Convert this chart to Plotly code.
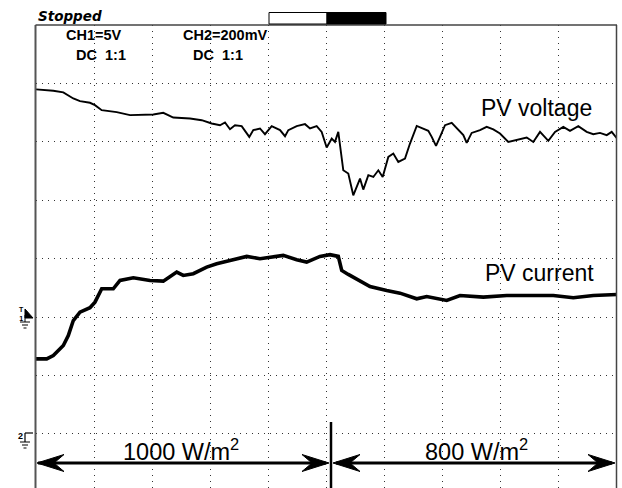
import numpy as np
import plotly.graph_objects as go

# ---- data (time in divisions, CH1 voltage in V, CH2 current-probe in mV) ----
ch1_v_per_div = 5.0      # CH1=5V
ch2_mv_per_div = 200.0   # CH2=200mV
ch1_ground_div = 3.0
ch2_ground_div = 1.0

t_voltage = [0.0, 0.298, 0.470, 0.642, 0.757, 0.929, 1.015, 1.131, 1.389, 1.618,
             2.019, 2.191, 2.363, 2.651, 2.852, 3.024, 3.167, 3.253, 3.339, 3.425,
             3.540, 3.671, 3.740, 3.855, 3.941, 4.057, 4.200, 4.286, 4.343, 4.487,
             4.630, 4.716, 4.831, 4.917, 5.003, 5.090, 5.146, 5.203, 5.289, 5.375,
             5.461, 5.530, 5.577, 5.633, 5.720, 5.806, 5.892, 5.967, 6.064, 6.150,
             6.236, 6.351, 6.437, 6.553, 6.666, 6.752, 6.811, 6.885, 6.954, 7.040,
             7.155, 7.241, 7.355, 7.413, 7.499, 7.642, 7.757, 7.871, 7.986, 8.129,
             8.274, 8.446, 8.559, 8.675, 8.818, 8.933, 9.076, 9.191, 9.334, 9.478,
             9.592, 9.707, 9.823, 9.909, 10.0]
pv_voltage = [19.49, 19.37, 19.23, 18.71, 18.48, 18.34, 18.14, 17.71, 17.54, 17.28,
              17.34, 17.48, 17.08, 17.00, 16.85, 16.57, 16.42, 16.66, 16.08, 16.42,
              16.34, 15.42, 16.00, 16.14, 15.65, 16.34, 16.00, 15.48, 16.00, 16.34,
              16.51, 16.14, 16.34, 15.85, 14.51, 15.28, 14.99, 15.85, 12.56, 12.28,
              10.42, 11.28, 11.85, 10.91, 12.14, 11.99, 12.56, 11.99, 13.71, 14.00,
              13.28, 13.57, 14.85, 16.36, 16.14, 15.94, 15.42, 14.65, 15.42, 16.42,
              16.62, 16.14, 15.57, 14.91, 15.76, 16.00, 16.28, 16.06, 15.71, 14.99,
              15.14, 15.37, 14.99, 15.85, 15.08, 15.85, 16.28, 15.94, 16.34, 15.85,
              15.65, 15.76, 15.57, 15.85, 15.28]

t_current = [0.0, 0.184, 0.298, 0.470, 0.556, 0.642, 0.757, 0.929, 1.015, 1.131,
             1.330, 1.446, 1.675, 1.962, 2.191, 2.422, 2.535, 2.707, 2.938, 3.110,
             3.339, 3.627, 3.855, 4.256, 4.487, 4.659, 4.888, 5.060, 5.203, 5.262,
             5.375, 5.547, 5.749, 6.036, 6.265, 6.553, 6.725, 7.069, 7.298, 7.699,
             8.102, 8.559, 8.904, 9.248, 9.592, 10.0]
pv_current = [256.6, 256.6, 267.9, 302.2, 336.5, 388.0, 416.5, 431.6, 450.8, 496.7,
              496.7, 525.2, 534.5, 525.2, 522.8, 553.7, 542.4, 548.2, 570.8, 582.5,
              593.8, 607.6, 599.7, 611.0, 596.2, 588.0, 607.6, 613.4, 607.6, 559.5,
              545.8, 527.6, 504.6, 490.9, 481.7, 462.4, 470.3, 456.6, 473.8, 467.9,
              473.8, 473.8, 473.8, 465.9, 473.8, 477.2]

region_labels = ["1000 W/m<sup>2</sup>", "800 W/m<sup>2</sup>"]
trace_labels = ["PV voltage", "PV current"]

# ---- figure geometry helpers (pixel -> paper) ----
FW, FH = 622, 488
ML, MR, MT, MB = 36, 5, 25, 0
PW, PH = FW - ML - MR, FH - MT - MB
DIV_PX_Y = 58.4
y_bottom = 8 - PH / DIV_PX_Y


def px(x):
    return (x - ML) / PW


def py(y):
    return (FH - MB - y) / PH


v_div = np.array(pv_voltage) / ch1_v_per_div + ch1_ground_div
i_div = np.array(pv_current) / ch2_mv_per_div + ch2_ground_div

fig = go.Figure()
fig.add_trace(go.Scatter(x=t_voltage, y=v_div, mode="lines",
                         line=dict(color="black", width=1.9), showlegend=False,
                         name=trace_labels[0]))
fig.add_trace(go.Scatter(x=t_current, y=i_div, mode="lines",
                         line=dict(color="black", width=3.6), showlegend=False,
                         name=trace_labels[1]))

shapes = []
# frame
shapes.append(dict(type="line", xref="paper", yref="paper", x0=px(35.5), x1=px(35.5),
                   y0=py(25), y1=py(488), line=dict(color="#555", width=2)))
shapes.append(dict(type="line", xref="paper", yref="paper", x0=px(35.5), x1=px(617),
                   y0=py(25), y1=py(25), line=dict(color="#444", width=1.5)))
shapes.append(dict(type="line", xref="paper", yref="paper", x0=px(616.5), x1=px(616.5),
                   y0=py(25), y1=py(488), line=dict(color="#444", width=1.5)))
# indicator bar
shapes.append(dict(type="rect", xref="paper", yref="paper", x0=px(269), x1=px(327),
                   y0=py(24), y1=py(12.5), fillcolor="white", line=dict(color="black", width=1)))
shapes.append(dict(type="rect", xref="paper", yref="paper", x0=px(327), x1=px(386),
                   y0=py(24), y1=py(12.5), fillcolor="black", line=dict(color="black", width=1)))


def arrow_head(tx, ty, d):
    # d = +1 pointing right, -1 pointing left
    pts = [(tx, ty), (tx - d * 27, ty - 8.5), (tx - d * 17, ty), (tx - d * 27, ty + 8.5)]
    path = "M " + " L ".join(f"{px(a):.5f},{py(b):.5f}" for a, b in pts) + " Z"
    return dict(type="path", xref="paper", yref="paper", path=path,
                fillcolor="black", line=dict(color="black", width=1))


ay = 463
shapes.append(dict(type="line", xref="paper", yref="paper", x0=px(38), x1=px(326),
                   y0=py(ay), y1=py(ay), line=dict(color="black", width=3)))
shapes.append(dict(type="line", xref="paper", yref="paper", x0=px(336), x1=px(612),
                   y0=py(ay), y1=py(ay), line=dict(color="black", width=3)))
shapes.append(arrow_head(37, ay, -1))
shapes.append(arrow_head(329, ay, 1))
shapes.append(arrow_head(333, ay, -1))
shapes.append(arrow_head(615, ay, 1))
shapes.append(dict(type="line", xref="paper", yref="paper", x0=px(331), x1=px(331),
                   y0=py(422), y1=py(488), line=dict(color="black", width=2.5)))


# ground markers
def ground(xc, ytop):
    out = []
    for k, hw in enumerate([5, 3, 1.5]):
        yy = ytop + 3 * k
        out.append(dict(type="line", xref="paper", yref="paper", x0=px(xc - hw), x1=px(xc + hw),
                        y0=py(yy), y1=py(yy), line=dict(color="black", width=1)))
    return out


# CH1 marker
shapes.append(dict(type="path", xref="paper", yref="paper",
                   path=f"M {px(25):.5f},{py(309):.5f} L {px(33):.5f},{py(318):.5f} L {px(25):.5f},{py(318):.5f} Z",
                   fillcolor="black", line=dict(color="black", width=1)))
shapes.append(dict(type="line", xref="paper", yref="paper", x0=px(25), x1=px(25),
                   y0=py(315), y1=py(322), line=dict(color="black", width=1)))
shapes += ground(25, 322)
# CH2 marker
shapes.append(dict(type="line", xref="paper", yref="paper", x0=px(25), x1=px(33),
                   y0=py(433), y1=py(433), line=dict(color="black", width=1.2)))
shapes.append(dict(type="line", xref="paper", yref="paper", x0=px(25), x1=px(25),
                   y0=py(433), y1=py(442), line=dict(color="black", width=1.2)))
shapes += ground(25, 442)

annotations = []


def txt(text, x, y, size, xanchor="left", family="Liberation Sans, Arial, sans-serif", bold=False,
        italic=False):
    annotations.append(dict(text=text, xref="paper", yref="paper", x=px(x), y=py(y),
                            xanchor=xanchor, yanchor="middle", showarrow=False,
                            font=dict(size=size, color="black", family=family,
                                      weight="bold" if bold else "normal",
                                      style="italic" if italic else "normal")))


txt("Stopped", 36, 16, 13.5, family="DejaVu Sans, sans-serif", bold=True, italic=True)
txt("CH1=5V", 64, 35, 14.5, bold=True)
txt("DC  1:1", 74, 55, 14.5, bold=True)
txt("CH2=200mV", 181, 35, 14.5, bold=True)
txt("DC  1:1", 191, 55, 14.5, bold=True)
txt("T<br>1", 21, 314, 7, xanchor="center", bold=True)
txt("2", 20, 436, 9, xanchor="center", bold=True)
txt(trace_labels[0], 479, 108, 23)
txt(trace_labels[1], 483, 273, 23)
txt(region_labels[0], 181, 450, 23.5, xanchor="center")
txt(region_labels[1], 476, 450, 23.5, xanchor="center")

fig.update_layout(
    width=FW, height=FH,
    margin=dict(l=ML, r=MR, t=MT, b=MB, pad=0),
    paper_bgcolor="white", plot_bgcolor="white",
    shapes=shapes, annotations=annotations, showlegend=False,
    xaxis=dict(range=[0, 10], tick0=0, dtick=1, showgrid=True, gridcolor="#333",
               gridwidth=1, griddash="1px,5px", zeroline=False, showticklabels=False,
               ticks="", showline=False, fixedrange=True),
    yaxis=dict(range=[y_bottom, 8], tick0=0, dtick=1, showgrid=True, gridcolor="#333",
               gridwidth=1, griddash="1px,5px", zeroline=False, showticklabels=False,
               ticks="", showline=False, fixedrange=True),
)

fig.write_html("out.html")
